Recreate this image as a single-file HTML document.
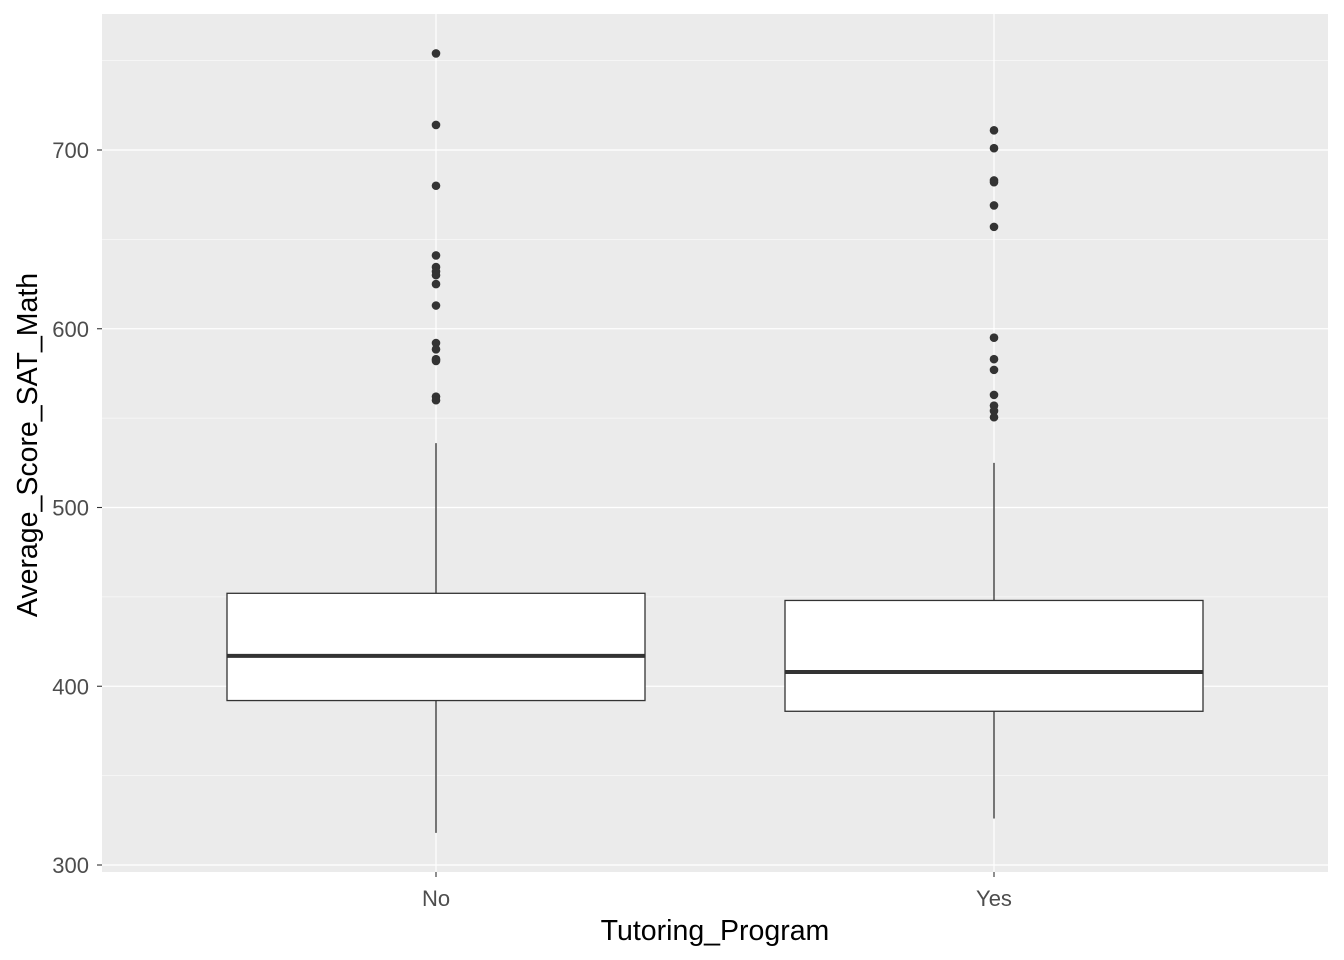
<!DOCTYPE html>
<html><head><meta charset="utf-8"><style>
html,body{margin:0;padding:0;background:#fff;}
svg{display:block;font-family:"Liberation Sans",Arial,sans-serif;}
</style></head><body>
<svg id="chart" width="1344" height="960"></svg>
<script>
const categories = ["No","Yes"];
const whiskerLow = [318, 326];
const q1 = [392, 386];
const median = [417, 408];
const q3 = [452, 448];
const whiskerHigh = [536, 525];
const outliersNo = [754,714,680,641,634.5,632,630,625,613,592,588.5,583,582,562,560];
const outliersYes = [711,701,683,682,669,657,595,583,577,563,557,554,550.5];
const outliers = [outliersNo, outliersYes];
const yTicks = [300,400,500,600,700];
const yMinor = [350,450,550,650,750];

const NS="http://www.w3.org/2000/svg";
const svg=document.getElementById('chart');
const P={l:102,r:1328,t:14,b:872};
const y=v=>865-(v-300)*1.7875;
const x=i=>436+i*558;
const bw=418;
function mk(tag,attrs,parent){const e=document.createElementNS(NS,tag);for(const k in attrs)e.setAttribute(k,attrs[k]);(parent||svg).appendChild(e);return e;}

const panel=mk('rect',{x:P.l,y:P.t,width:P.r-P.l,height:P.b-P.t,fill:'#ebebeb'});


yMinor.forEach(v=>{const l=mk('line',{x1:P.l,x2:P.r,y1:y(v),y2:y(v),stroke:'#fff','stroke-width':0.6});

});
yTicks.forEach(v=>{const l=mk('line',{x1:P.l,x2:P.r,y1:y(v),y2:y(v),stroke:'#fff','stroke-width':1.2});


const tk=mk('line',{x1:P.l-5,x2:P.l,y1:y(v),y2:y(v),stroke:'#333','stroke-width':1.1});


const t=mk('text',{x:P.l-13,y:y(v)+8,'text-anchor':'end','font-size':22,fill:'#4d4d4d'});t.textContent=v;

});
categories.forEach((c,i)=>{
const l=mk('line',{x1:x(i),x2:x(i),y1:P.t,y2:P.b,stroke:'#fff','stroke-width':1.2});


const tk=mk('line',{x1:x(i),x2:x(i),y1:P.b,y2:P.b+5,stroke:'#333','stroke-width':1.1});


const t=mk('text',{x:x(i),y:906,'text-anchor':'middle','font-size':22,fill:'#4d4d4d'});t.textContent=c;


const g=mk('g',{});


mk('line',{x1:x(i),x2:x(i),y1:y(whiskerLow[i]),y2:y(q1[i]),stroke:'#333','stroke-width':1.3},g);
mk('line',{x1:x(i),x2:x(i),y1:y(q3[i]),y2:y(whiskerHigh[i]),stroke:'#333','stroke-width':1.3},g);
mk('rect',{x:x(i)-bw/2,y:y(q3[i]),width:bw,height:y(q1[i])-y(q3[i]),fill:'#fff',stroke:'#333','stroke-width':1.3},g);
mk('line',{x1:x(i)-bw/2,x2:x(i)+bw/2,y1:y(median[i]),y2:y(median[i]),stroke:'#333','stroke-width':4},g);
outliers[i].forEach(v=>{const p=mk('circle',{cx:x(i),cy:y(v),r:4.3,fill:'#333'});

});
});
const xt=mk('text',{x:715,y:940,'text-anchor':'middle','font-size':28.5,fill:'#000'});xt.textContent='Tutoring_Program';


const yt=mk('text',{x:0,y:0,'text-anchor':'middle','font-size':28.5,fill:'#000',transform:'translate(37,445) rotate(-90)'});yt.textContent='Average_Score_SAT_Math';


</script>
</body></html>
